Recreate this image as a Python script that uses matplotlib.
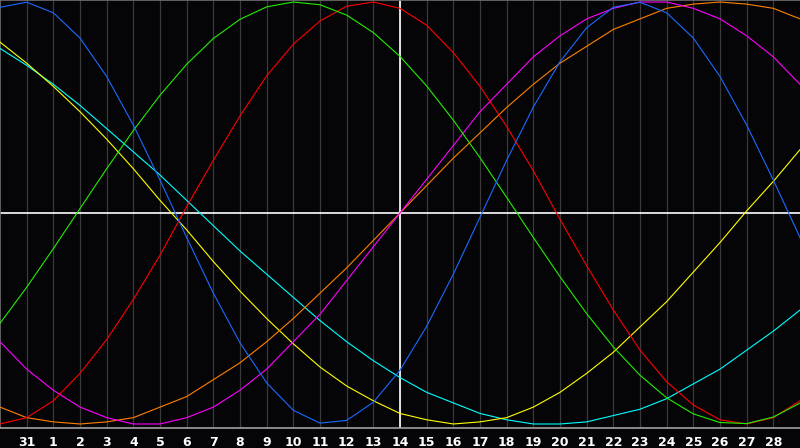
import matplotlib
matplotlib.use("Agg")
import matplotlib.pyplot as plt

# day positions: -1 is the left edge (day 30), 29 the right edge
day_pos = list(range(-1, 30))
tick_pos = list(range(0, 29))
tick_labels = ["31"] + [str(d) for d in range(1, 29)]
marker_day = 14

# cycle values, one per day
blue = [0.975, 0.999, 0.949, 0.829, 0.647, 0.417, 0.156, -0.116, -0.380, -0.615,
        -0.805, -0.935, -0.996, -0.983, -0.897, -0.745, -0.537, -0.290, -0.020, 0.250,
        0.502, 0.717, 0.878, 0.975, 0.999, 0.949, 0.829, 0.647, 0.417, 0.156, -0.116]
green = [-0.523, -0.352, -0.169, 0.021, 0.210, 0.391, 0.558, 0.705, 0.827, 0.918,
         0.977, 1.000, 0.987, 0.938, 0.855, 0.742, 0.602, 0.440, 0.262, 0.074,
         -0.116, -0.302, -0.477, -0.635, -0.769, -0.876, -0.952, -0.993, -0.998, -0.967, -0.901]
red = [-1.00, -0.97, -0.89, -0.76, -0.60, -0.41, -0.20, 0.03, 0.25, 0.46,
       0.65, 0.80, 0.91, 0.98, 1.00, 0.97, 0.89, 0.76, 0.60, 0.41,
       0.20, -0.03, -0.25, -0.46, -0.65, -0.80, -0.91, -0.98, -1.00, -0.97, -0.89]
magenta = [-0.61, -0.74, -0.84, -0.92, -0.97, -1.00, -1.00, -0.97, -0.92, -0.84,
           -0.74, -0.61, -0.48, -0.32, -0.16, 0.00, 0.16, 0.32, 0.48, 0.61,
           0.74, 0.84, 0.92, 0.97, 1.00, 1.00, 0.97, 0.92, 0.84, 0.74, 0.61]
orange = [-0.92, -0.97, -0.99, -1.00, -0.99, -0.97, -0.92, -0.87, -0.79, -0.71,
          -0.61, -0.50, -0.38, -0.26, -0.13, 0.00, 0.13, 0.26, 0.38, 0.50,
          0.61, 0.71, 0.79, 0.87, 0.92, 0.97, 0.99, 1.00, 0.99, 0.97, 0.92]
yellow = [0.81, 0.71, 0.60, 0.48, 0.35, 0.21, 0.06, -0.08, -0.23, -0.37,
          -0.50, -0.62, -0.73, -0.82, -0.89, -0.95, -0.98, -1.00, -0.99, -0.97,
          -0.92, -0.85, -0.76, -0.66, -0.54, -0.42, -0.28, -0.14, 0.01, 0.15, 0.30]
cyan = [0.78, 0.70, 0.61, 0.51, 0.40, 0.29, 0.18, 0.06, -0.06, -0.18,
        -0.29, -0.40, -0.51, -0.61, -0.70, -0.78, -0.85, -0.90, -0.95, -0.98,
        -1.00, -1.00, -0.99, -0.96, -0.93, -0.88, -0.81, -0.74, -0.65, -0.56, -0.46]

cycles = [
    (cyan, "#00ffff"),
    (yellow, "#ffff00"),
    (orange, "#ff8000"),
    (magenta, "#ff00ff"),
    (red, "#ff0000"),
    (green, "#22ee00"),
    (blue, "#1a6aff"),
]

BG = "#050508"

fig = plt.figure(figsize=(8, 4.48), dpi=100, facecolor=BG)
ax = fig.add_axes([0, 20 / 448, 1, 428 / 448], facecolor=BG)

# day grid
for p in tick_pos:
    ax.axvline(p, color="#3a3a3a", lw=0.9, zorder=1)
ax.axhline(0, color="white", lw=1.2, zorder=2)
ax.axvline(marker_day, color="white", lw=1.2, zorder=2)

for vals, col in cycles:
    ax.plot(day_pos, vals, color=col, lw=0.8, zorder=3)

ax.set_xlim(-1, 29)
ax.set_ylim(-1.019, 1.0095)
ax.set_yticks([])
ax.set_xticks(tick_pos)
ax.set_xticklabels(tick_labels, color="white", fontsize=9, fontweight="bold",
                   family="DejaVu Sans")
ax.tick_params(axis="x", length=0, pad=6)

for side in ["left", "top"]:
    ax.spines[side].set_color("#707070")
    ax.spines[side].set_linewidth(1.2)
ax.spines["bottom"].set_color("#a0a0a0")
ax.spines["bottom"].set_linewidth(1.2)
ax.spines["right"].set_visible(False)

fig.savefig("out.png", dpi=100, facecolor=BG)
